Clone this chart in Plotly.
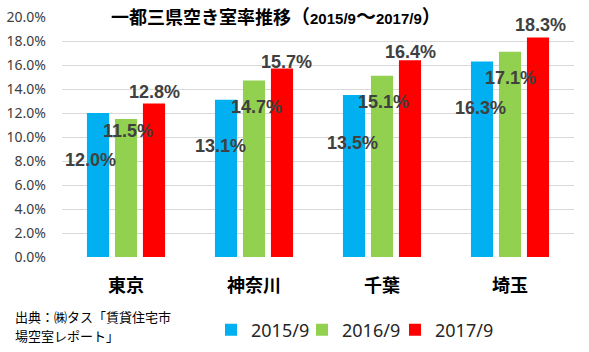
import plotly.graph_objects as go

categories = ["東京", "神奈川", "千葉", "埼玉"]
series_names = ["2015/9", "2016/9", "2017/9"]
v2015 = [0.120, 0.131, 0.135, 0.163]
v2016 = [0.115, 0.147, 0.151, 0.171]
v2017 = [0.128, 0.157, 0.164, 0.183]
title_main = "一都三県空き室率推移"
title_start = "2015/9"
title_end = "2017/9"
source_lines = ["出典：㈱タス「賃貸住宅市", "場空室レポート」"]

colors = ["#00B0F0", "#92D050", "#FF0000"]
all_vals = [v2015, v2016, v2017]

# label placement (pixels): per series, per category
bar_offset_px = [-28.5, 0, 28.5]
label_dx = [[-7, -5, -1, -1], [1.5, 2, 1.5, 0], [0, 4, 0, 1.5]]
label_dy = [[47, 46, 48, 47], [12, 26, 26, 26], [-11, -7, -8.5, -12]]
legend_left_px = [211, 302, 395]
source_y_px = [316.5, 335.5]

W, H = 589, 352
ml, mr, mt, mb = 62, 15, 17, 95
pw = W - ml - mr
ph = H - mt - mb

def px_to_paper_x(px):
    return (px - ml) / pw

def px_to_paper_y(py):
    return (H - mb - py) / ph

legend_ids = ["legend", "legend2", "legend3"]

fig = go.Figure()
for name, vals, col, lid in zip(series_names, all_vals, colors, legend_ids):
    fig.add_trace(go.Bar(x=categories, y=vals, name=name, marker_color=col,
                         marker_line_width=0, legend=lid))

annotations = []
for si, vals in enumerate(all_vals):
    for ci, v in enumerate(vals):
        annotations.append(dict(
            x=categories[ci], y=v, xref="x", yref="y",
            text=f"<b>{v*100:.1f}%</b>", showarrow=False,
            xshift=bar_offset_px[si] + label_dx[si][ci],
            yshift=-label_dy[si][ci],
            xanchor="center", yanchor="middle",
            font=dict(family="Liberation Sans, Arial", size=18, color="#404040"),
        ))

title_html = (
    f"<b><span style='font-size:18px'>{title_main}</span>"
    f"<span style='font-size:19px'>（</span>"
    f"<span style='font-size:15px'>{title_start}</span>"
    f"<span style='font-size:20px'>～</span>"
    f"<span style='font-size:15px'>{title_end}</span>"
    f"<span style='font-size:19px'>）</span></b>"
)
annotations.append(dict(
    xref="paper", yref="paper", x=px_to_paper_x(276), y=px_to_paper_y(17),
    text=title_html,
    showarrow=False, xanchor="center", yanchor="middle",
    font=dict(family="Liberation Sans, Noto Sans CJK JP", size=18, color="#000000"),
))
for line, ypx in zip(source_lines, source_y_px):
    annotations.append(dict(
        xref="paper", yref="paper", x=px_to_paper_x(13), y=px_to_paper_y(ypx),
        text=line, showarrow=False, xanchor="left", yanchor="middle", align="left",
        font=dict(family="Noto Sans CJK JP", size=13, color="#000000"),
    ))

legend_common = dict(orientation="h", xanchor="left", yanchor="middle",
                     y=px_to_paper_y(330),
                     font=dict(family="Noto Sans", size=18, color="#262626"),
                     itemwidth=30, bgcolor="rgba(0,0,0,0)")

fig.update_layout(
    width=W, height=H, autosize=False,
    margin=dict(l=ml, r=mr, t=mt, b=mb, pad=0, autoexpand=False),
    paper_bgcolor="white", plot_bgcolor="white",
    bargap=0.344, bargroupgap=0.21,
    showlegend=True,
    legend=dict(x=px_to_paper_x(legend_left_px[0]), **legend_common),
    legend2=dict(x=px_to_paper_x(legend_left_px[1]), **legend_common),
    legend3=dict(x=px_to_paper_x(legend_left_px[2]), **legend_common),
    annotations=annotations,
    shapes=[dict(type="rect", xref="paper", yref="paper",
                 x0=px_to_paper_x(97), x1=px_to_paper_x(477),
                 y0=px_to_paper_y(28), y1=px_to_paper_y(6),
                 fillcolor="white", line=dict(width=0), layer="above")],
    xaxis=dict(showgrid=False, showline=False, ticks="",
               tickfont=dict(family="Noto Sans CJK JP", size=18, color="#000000", weight="bold"),
               ticklabelstandoff=16),
    yaxis=dict(range=[0, 0.2], dtick=0.02, tickformat=".1%",
               showgrid=True, gridcolor="#D9D9D9", gridwidth=1,
               zeroline=False, showline=False, ticks="",
               tickfont=dict(family="Noto Sans", size=14, color="#404040"),
               ticklabelstandoff=15),
)

fig.write_html("out.html")
